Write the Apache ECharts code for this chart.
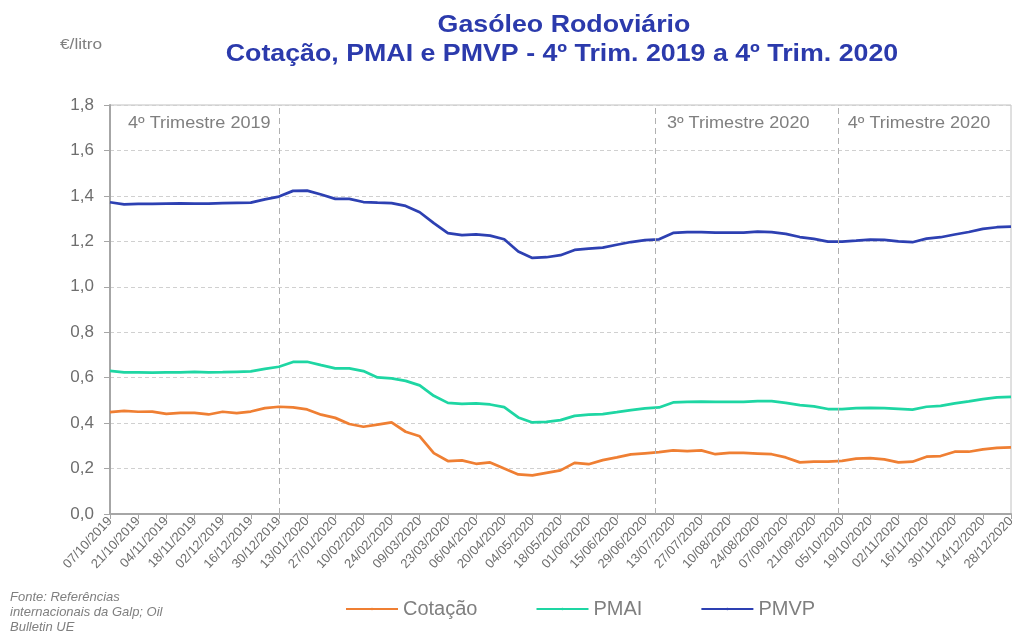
<!DOCTYPE html>
<html>
<head>
<meta charset="utf-8">
<script src="https://cdn.jsdelivr.net/npm/echarts@6/dist/echarts.min.js"></script>
<style>
  html, body { margin: 0; padding: 0; background: #fff; }
  #main { width: 1013px; height: 631px; }
</style>
</head>
<body>
<div id="main"></div>
<script>
// rótulos do eixo x (de 2 em 2 semanas)
const dateLabels = ['07/10/2019', '21/10/2019', '04/11/2019', '18/11/2019', '02/12/2019', '16/12/2019',
    '30/12/2019', '13/01/2020', '27/01/2020', '10/02/2020', '24/02/2020', '09/03/2020', '23/03/2020',
    '06/04/2020', '20/04/2020', '04/05/2020', '18/05/2020', '01/06/2020', '15/06/2020', '29/06/2020',
    '13/07/2020', '27/07/2020', '10/08/2020', '24/08/2020', '07/09/2020', '21/09/2020', '05/10/2020',
    '19/10/2020', '02/11/2020', '16/11/2020', '30/11/2020', '14/12/2020', '28/12/2020'];

// valores semanais (65 semanas)
const cotacao = [0.448, 0.454, 0.450, 0.451, 0.441, 0.445, 0.445, 0.438, 0.450, 0.444, 0.451, 0.466, 0.472,
    0.469, 0.460, 0.437, 0.423, 0.396, 0.384, 0.393, 0.403, 0.362, 0.342, 0.268, 0.233, 0.236, 0.221,
    0.227, 0.200, 0.174, 0.170, 0.181, 0.192, 0.225, 0.219, 0.237, 0.249, 0.262, 0.267, 0.272, 0.280,
    0.277, 0.280, 0.263, 0.269, 0.269, 0.266, 0.263, 0.249, 0.227, 0.230, 0.231, 0.234, 0.244, 0.246,
    0.240, 0.227, 0.230, 0.252, 0.255, 0.274, 0.274, 0.284, 0.291, 0.293];
const pmai = [0.630, 0.623, 0.623, 0.622, 0.623, 0.623, 0.626, 0.623, 0.624, 0.626, 0.628, 0.639, 0.648,
    0.669, 0.670, 0.655, 0.641, 0.641, 0.629, 0.601, 0.597, 0.586, 0.566, 0.520, 0.489, 0.485, 0.487,
    0.482, 0.470, 0.425, 0.403, 0.405, 0.413, 0.432, 0.437, 0.440, 0.448, 0.457, 0.465, 0.469, 0.491,
    0.494, 0.495, 0.493, 0.493, 0.493, 0.497, 0.497, 0.489, 0.479, 0.474, 0.462, 0.462, 0.466, 0.467,
    0.466, 0.463, 0.459, 0.472, 0.476, 0.487, 0.496, 0.506, 0.513, 0.516];
const pmvp = [1.372, 1.363, 1.365, 1.365, 1.366, 1.367, 1.366, 1.366, 1.368, 1.369, 1.370, 1.385, 1.397,
    1.422, 1.423, 1.406, 1.387, 1.387, 1.373, 1.370, 1.368, 1.356, 1.328, 1.280, 1.236, 1.227, 1.231,
    1.225, 1.209, 1.155, 1.127, 1.130, 1.139, 1.162, 1.168, 1.172, 1.185, 1.197, 1.205, 1.209, 1.237,
    1.240, 1.240, 1.238, 1.238, 1.238, 1.243, 1.241, 1.233, 1.219, 1.211, 1.199, 1.199, 1.203, 1.208,
    1.206, 1.200, 1.196, 1.212, 1.218, 1.230, 1.241, 1.255, 1.262, 1.265];

// separadores de trimestre (posição em semanas) e respetivos rótulos
const quarterLines = [12, 38.75, 51.75];
const quarterNames = ['4º Trimestre 2019', '3º Trimestre 2020', '4º Trimestre 2020'];
const quarterTextPos = [1.28, 39.56, 52.4];

const FONT = '"Liberation Sans", Arial, sans-serif';
const BLUE = '#2b3aac';
const GREY = '#7f7f7f';

function toPairs(arr) {
    return arr.map(function (v, i) { return [i, v]; });
}

let myChart = echarts.init(document.getElementById('main'));

let option = {
    animation: false,
    textStyle: {fontFamily: FONT},
    grid: {
        left: 110, right: 2, top: 105, bottom: 117,
        outerBoundsMode: 'none',
        show: true, borderColor: '#c0c0c0', borderWidth: 1
    },
    legend: {
        left: 340, top: 594,
        itemWidth: 52, itemHeight: 3, itemGap: 58,
        textStyle: {color: GREY, fontSize: 20, fontFamily: FONT},
        data: ['Cotação', 'PMAI', 'PMVP']
    },
    xAxis: {
        type: 'value', min: 0, max: 64, interval: 2,
        axisLine: {show: true, lineStyle: {color: '#a6a6a6', width: 2}},
        axisTick: {show: true, length: 5, lineStyle: {color: '#a6a6a6'}},
        splitLine: {show: false},
        axisLabel: {
            rotate: 47, fontSize: 13, color: '#6e6e6e', margin: 5, fontFamily: FONT,
            formatter: function (v) { return dateLabels[v / 2] || ''; }
        }
    },
    yAxis: {
        type: 'value', min: 0, max: 1.8, interval: 0.2,
        axisLine: {show: true, lineStyle: {color: '#a6a6a6', width: 2}},
        axisTick: {show: true, length: 6, lineStyle: {color: '#a6a6a6'}},
        splitLine: {show: true, lineStyle: {color: '#d0d0d0', type: [4, 3]}},
        axisLabel: {
            fontSize: 17, color: '#6e6e6e', margin: 16, fontFamily: FONT,
            formatter: function (v) { return v.toFixed(1).replace('.', ','); }
        }
    },
    series: [{
        name: 'Cotação', type: 'line', data: toPairs(cotacao), symbol: 'none',
        lineStyle: {color: '#ef7f33', width: 2.75}, itemStyle: {color: '#ef7f33'},
        markLine: {
            silent: true, symbol: 'none', label: {show: false},
            lineStyle: {color: '#b0b0b0', type: [6, 4], width: 1},
            data: quarterLines.map(function (q) { return {xAxis: q}; })
        }
    }, {
        name: 'PMAI', type: 'line', data: toPairs(pmai), symbol: 'none',
        lineStyle: {color: '#1ed6a3', width: 2.75}, itemStyle: {color: '#1ed6a3'}
    }, {
        name: 'PMVP', type: 'line', data: toPairs(pmvp), symbol: 'none',
        lineStyle: {color: '#2d40b2', width: 2.75}, itemStyle: {color: '#2d40b2'}
    }]
};

myChart.setOption(option);

// textos (títulos, unidade, fonte e trimestres)
let texts = [
    {type: 'text', x: 564, y: 25, scaleX: 1.115, style: {
        text: 'Gasóleo Rodoviário', textAlign: 'center', textVerticalAlign: 'middle',
        font: 'bold 24px ' + FONT, fill: BLUE}},
    {type: 'text', x: 562, y: 54, scaleX: 1.115, style: {
        text: 'Cotação, PMAI e PMVP - 4º Trim. 2019 a 4º Trim. 2020', textAlign: 'center', textVerticalAlign: 'middle',
        font: 'bold 24px ' + FONT, fill: BLUE}},
    {type: 'text', x: 60, y: 45, scaleX: 1.15, style: {
        text: '€/litro', textVerticalAlign: 'middle', font: '15px ' + FONT, fill: GREY}},
    {type: 'text', x: 10, y: 590, style: {
        text: 'Fonte: Referências\ninternacionais da Galp; Oil\nBulletin UE',
        font: 'italic 13px ' + FONT, fill: GREY, lineHeight: 15}}
];
quarterNames.forEach(function (n, i) {
    let p = myChart.convertToPixel({gridIndex: 0}, [quarterTextPos[i], 0]);
    texts.push({type: 'text', x: p[0], y: 124, scaleX: 1.13, style: {
        text: n, textVerticalAlign: 'middle', font: '16px ' + FONT, fill: GREY}});
});
myChart.setOption({graphic: texts});
</script>
</body>
</html>
